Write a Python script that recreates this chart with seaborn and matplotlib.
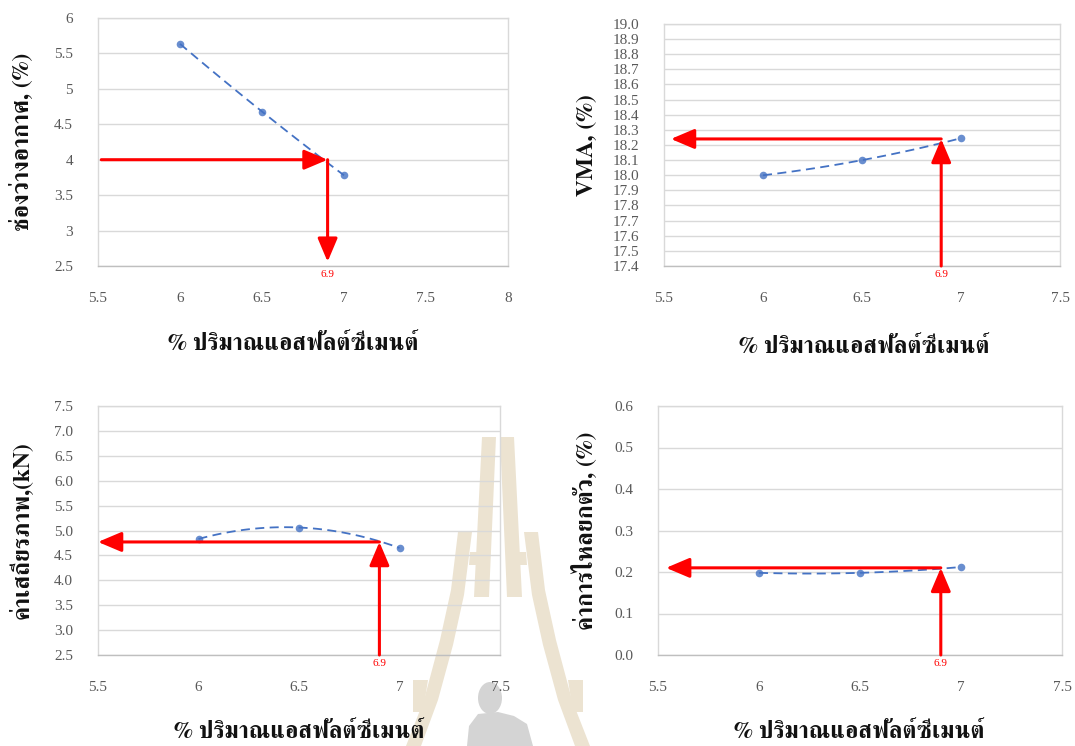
import numpy as np
import matplotlib
matplotlib.use("Agg")
import matplotlib.pyplot as plt
from matplotlib.patches import Polygon, Ellipse
import seaborn as sns

# Marshall mix design results against asphalt cement content (%)
asphalt = [6.0, 6.5, 7.0]
air_voids = [5.635, 4.68, 3.78]
vma = [18.0, 18.1, 18.245]
stability = [4.83, 5.06, 4.65]
flow = [0.198, 0.198, 0.212]

# Optimum asphalt content and the property at it
optimum = 6.9
air_at_opt = 4.0
vma_at_opt = 18.24
stab_at_opt = 4.77
flow_at_opt = 0.21

x_label = "% ปริมาณแอสฟัลต์ซีเมนต์"
y_labels = ["ช่องว่างอากาศ, (%)", "VMA, (%)", "ค่าเสถียรภาพ,(kN)", "ค่าการไหลยกตัว, (%)"]

x_ticks_wide = [5.5, 6.0, 6.5, 7.0, 7.5, 8.0]
x_labels_wide = ["5.5", "6", "6.5", "7", "7.5", "8"]
x_ticks = [5.5, 6.0, 6.5, 7.0, 7.5]
x_labels = ["5.5", "6", "6.5", "7", "7.5"]

air_ticks = [2.5, 3.0, 3.5, 4.0, 4.5, 5.0, 5.5, 6.0]
air_tick_labels = ["2.5", "3", "3.5", "4", "4.5", "5", "5.5", "6"]
vma_ticks = [17.4, 17.5, 17.6, 17.7, 17.8, 17.9, 18.0, 18.1, 18.2,
             18.3, 18.4, 18.5, 18.6, 18.7, 18.8, 18.9, 19.0]
stab_ticks = [2.5, 3.0, 3.5, 4.0, 4.5, 5.0, 5.5, 6.0, 6.5, 7.0, 7.5]
flow_ticks = [0.0, 0.1, 0.2, 0.3, 0.4, 0.5, 0.6]

sns.set_style("white")
plt.rcParams["font.family"] = ["Liberation Serif", "FreeSerif"]

BLUE = "#4472C4"
RED = "#FF0000"
GRID = "#D9D9D9"
AXIS = "#BFBFBF"
TICK_TXT = "#595959"
LABEL_FONT = dict(family="FreeSerif", weight="bold", size=17, color="#111111")

W, H = 1075, 746
fig = plt.figure(figsize=(W / 100, H / 100), dpi=100)
fig.patch.set_facecolor("white")


def px(x, y):
    return (x / W, 1 - y / H)


# faint university emblem watermark behind the lower panels
BEIGE = "#ECE3D1"
cx = 498.0
right_parts = [
    [(500, 437), (514, 437), (522, 597), (507, 597)],
    [(524, 532), (538, 532), (545, 590), (556, 640), (572, 700), (590, 746),
     (575, 746), (558, 700), (543, 645), (532, 595)],
    [(513, 552), (526, 552), (527, 565), (515, 565)],
    [(568, 680), (583, 680), (583, 712), (573, 712)],
]
for part in right_parts:
    for mirror in (False, True):
        pts = [((2 * cx - x) if mirror else x, y) for x, y in part]
        fig.add_artist(Polygon([px(x, y) for x, y in pts], closed=True,
                               transform=fig.transFigure, facecolor=BEIGE,
                               edgecolor="none", zorder=-5))
fig.add_artist(Ellipse(px(490, 698), 24 / W, 32 / H, transform=fig.transFigure,
                       facecolor="#D4D4D4", edgecolor="none", zorder=-4))
fig.add_artist(Polygon([px(x, y) for x, y in
                        [(467, 746), (469, 726), (478, 714), (498, 712), (514, 716),
                         (527, 724), (533, 746)]],
                       closed=True, transform=fig.transFigure,
                       facecolor="#D4D4D4", edgecolor="none", zorder=-4))


def arrow(ax, start, end):
    ax.annotate("", xy=end, xytext=start, zorder=6,
                arrowprops=dict(arrowstyle="-|>,head_length=1.3,head_width=0.55",
                                mutation_scale=11, color=RED, lw=2.2,
                                shrinkA=0, shrinkB=0))


def panel(rect, y, xticks, xticklabels, yticks, yticklabels, ylabel,
          xlabel_pos, ylabel_x):
    ax = fig.add_axes(rect)
    ax.set_facecolor("none")
    sns.regplot(x=asphalt, y=y, order=2, ci=None, ax=ax, truncate=True,
                scatter_kws=dict(s=30, color=BLUE, linewidths=0, zorder=4),
                line_kws=dict(color=BLUE, lw=1.3, ls=(0, (5, 3)), zorder=3))
    ax.set_xlim(xticks[0], xticks[-1])
    ax.set_ylim(yticks[0], yticks[-1])
    ax.set_xticks(xticks, xticklabels)
    ax.set_yticks(yticks, yticklabels)
    ax.grid(axis="y", color=GRID, lw=1.0)
    ax.set_axisbelow(True)
    for side in ("left", "right", "top"):
        ax.spines[side].set_color(GRID)
        ax.spines[side].set_linewidth(1.0)
    ax.spines["bottom"].set_color(AXIS)
    ax.spines["bottom"].set_linewidth(1.0)
    ax.tick_params(axis="x", length=6, width=1, color=AXIS, pad=13,
                   labelsize=11, labelcolor=TICK_TXT)
    ax.tick_params(axis="y", length=0, pad=18, labelsize=11, labelcolor=TICK_TXT)
    ax.set_xlabel(x_label, **LABEL_FONT)
    ax.xaxis.label.set_va("center")
    ax.xaxis.set_label_coords(xlabel_pos[0], xlabel_pos[1])
    ax.set_ylabel(ylabel, **LABEL_FONT)
    ax.yaxis.label.set_va("center")
    ax.yaxis.set_label_coords(ylabel_x, 0.5)
    ax.annotate(f"{optimum:g}", xy=(optimum, yticks[0]), xytext=(0, -3),
                textcoords="offset points", ha="center", va="top",
                color=RED, fontsize=8, family="Liberation Serif", zorder=6)
    return ax


ax1 = panel([98 / W, 1 - 266 / H, 410 / W, 248 / H], air_voids,
            x_ticks_wide, x_labels_wide, air_ticks, air_tick_labels,
            y_labels[0], (0.476, -0.318), -0.185)
arrow(ax1, (5.52, air_at_opt), (optimum, air_at_opt))
arrow(ax1, (optimum, air_at_opt), (optimum, 2.56))

ax2 = panel([664 / W, 1 - 266 / H, 396 / W, 242 / H], vma,
            x_ticks, x_labels, vma_ticks, [f"{v:.1f}" for v in vma_ticks],
            y_labels[1], (0.505, -0.335), -0.194)
arrow(ax2, (optimum, vma_ticks[0]), (optimum, vma_at_opt))
arrow(ax2, (optimum, vma_at_opt), (5.535, vma_at_opt))

ax3 = panel([98 / W, 1 - 655 / H, 402 / W, 249 / H], stability,
            x_ticks, x_labels, stab_ticks, [f"{v:.1f}" for v in stab_ticks],
            y_labels[2], (0.5, -0.313), -0.189)
arrow(ax3, (optimum, stab_ticks[0]), (optimum, stab_at_opt))
arrow(ax3, (optimum, stab_at_opt), (5.5, stab_at_opt))

ax4 = panel([658 / W, 1 - 655 / H, 404 / W, 249 / H], flow,
            x_ticks, x_labels, flow_ticks, [f"{v:.1f}" for v in flow_ticks],
            y_labels[3], (0.4975, -0.313), -0.181)
arrow(ax4, (optimum, flow_ticks[0]), (optimum, flow_at_opt))
arrow(ax4, (optimum, flow_at_opt), (5.54, flow_at_opt))

fig.savefig("out.png", dpi=100)
